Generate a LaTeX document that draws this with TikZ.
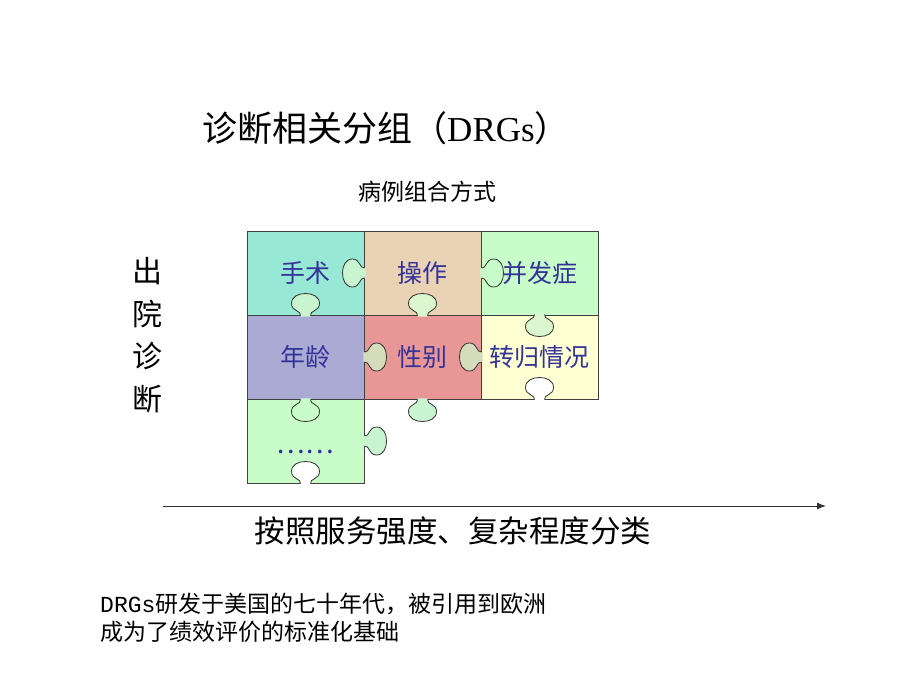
\documentclass[tikz,border=0pt]{standalone}
\usepackage{fontspec}
\setmainfont{Noto Sans CJK SC}
\newfontfamily\latinserif{Liberation Serif}
\newfontfamily\latinmono{Liberation Mono}
\usepackage{tikz}
\usetikzlibrary{arrows.meta}

\definecolor{labelblue}{RGB}{51,51,153}
\definecolor{shoushuC}{RGB}{152,232,214}
\definecolor{caozuoC}{RGB}{234,211,181}
\definecolor{bingfaC}{RGB}{200,252,200}
\definecolor{nianlingC}{RGB}{170,170,212}
\definecolor{xingbieC}{RGB}{232,150,150}
\definecolor{zhuanguiC}{RGB}{255,255,212}
\definecolor{mintC}{RGB}{200,244,208}
\definecolor{sageC}{RGB}{212,220,188}
\definecolor{paleC}{RGB}{218,246,206}

\begin{document}
\begin{tikzpicture}[x=1pt,y=-1pt]
    \tikzstyle{cell}=[draw=black!75,line width=1pt,minimum width=117pt,minimum height=84pt,inner sep=0pt,text=labelblue,font=\fontsize{25}{28}\selectfont]
    \tikzstyle{axis}=[draw=black!80,line width=1pt,-{Latex[length=9pt,width=7pt]}]
    \tikzset{pics/knob/.style={code={
        \fill[#1] (-5,-1.2) -- (-5,0) .. controls (-4,5) and (-14,4) .. (-14,12) .. controls (-14,19) and (-7,22) .. (0,22)
            .. controls (7,22) and (14,19) .. (14,12) .. controls (14,4) and (4,5) .. (5,0) -- (5,-1.2) -- cycle;
        \draw[black!80,line width=0.8pt] (-5,0) .. controls (-4,5) and (-14,4) .. (-14,12) .. controls (-14,19) and (-7,22) .. (0,22)
            .. controls (7,22) and (14,19) .. (14,12) .. controls (14,4) and (4,5) .. (5,0);
    }}}

    \useasboundingbox (0,0) rectangle (920,690);

    \def\colA{305.5}
    \def\colB{422.5}
    \def\colC{539.5}

    \def\rowA{273}
    \def\rowB{357}
    \def\rowC{441}

    % titles
    \node[font=\fontsize{35}{40}\selectfont] (title) at (386,128) {诊断相关分组（{\latinserif DRGs}）};
    \node[font=\fontsize{23}{26}\selectfont] (grouping) at (427,192) {病例组合方式};
    \node[font=\fontsize{30}{42.5}\selectfont,align=center] (diagnosis) at (147,335) {出\\院\\诊\\断};

    % puzzle
    \node[cell,fill=shoushuC]  (shoushu)  at (\colA,\rowA) {手术};
    \node[cell,fill=caozuoC]   (caozuo)   at (\colB,\rowA) {操作};
    \node[cell,fill=bingfaC]   (bingfa)   at (\colC,\rowA) {并发症};
    \node[cell,fill=nianlingC] (nianling) at (\colA,\rowB) {年龄};
    \node[cell,fill=xingbieC]  (xingbie)  at (\colB,\rowB) {性别};
    \node[cell,fill=zhuanguiC] (zhuangui) at (\colC,\rowB) {转归情况};
    \node[cell,fill=bingfaC]   (dots)     at (\colA,\rowC) {\raisebox{-9pt}[12pt][6pt]{\fontsize{27}{28}\selectfont ……}};

    \pic[rotate=-90] at (shoushu.east)  {knob=mintC};
    \pic[rotate=90]  at (caozuo.east)   {knob=bingfaC};
    \pic[rotate=180] at (shoushu.south) {knob=mintC};
    \pic[rotate=180] at (caozuo.south)  {knob=paleC};
    \pic             at (zhuangui.north) {knob=paleC};
    \pic[rotate=90]  at (nianling.east) {knob=sageC};
    \pic[rotate=-90] at (xingbie.east)  {knob=sageC};
    \pic[rotate=180] at (zhuangui.south) {knob=white};
    \pic             at (xingbie.south) {knob=mintC};
    \pic             at (nianling.south) {knob=bingfaC};
    \pic[rotate=90]  at (dots.east)     {knob=mintC};
    \pic[rotate=180] at (dots.south)    {knob=white};

    % axis
    \coordinate (axstart) at (163,506);
    \coordinate (axend)   at (826,506);
    \path[axis] (axstart) -- (axend);
    \node[font=\fontsize{30.5}{34}\selectfont] (axislabel) at (453,531) {按照服务强度、复杂程度分类};

    % note
    \node[font=\fontsize{23}{28}\selectfont,align=left,anchor=west,inner sep=0pt] (note) at (100,618)
        {{\latinmono DRGs}研发于美国的七十年代，被引用到欧洲\\成为了绩效评价的标准化基础};
\end{tikzpicture}
\end{document}
